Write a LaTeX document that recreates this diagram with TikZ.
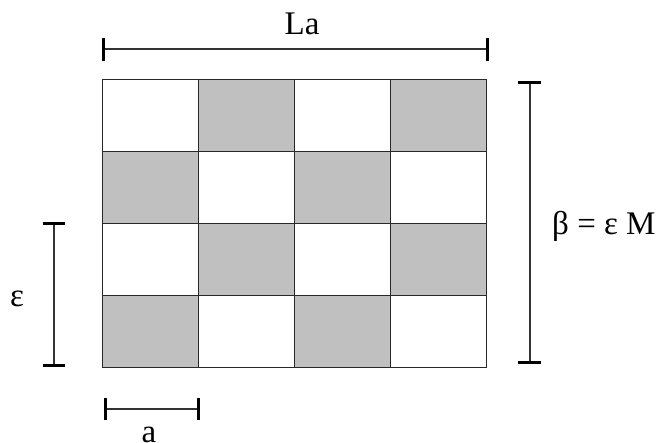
\documentclass[tikz,border=0pt]{standalone}
\usepackage{fontspec}
\setmainfont{Liberation Serif}
\definecolor{cellgray}{RGB}{192,192,192}
\definecolor{gridline}{RGB}{40,40,40}
\tikzset{
  cell/.style={draw=gridline, line width=1pt, minimum width=96pt, minimum height=72pt, inner sep=0pt, anchor=north west},
  dimline/.style={draw=black!80, line width=1.1pt},
  dimtick/.style={draw=black, line width=3pt},
  lbl/.style={inner sep=0pt, font=\fontsize{33}{36}\selectfont},
}
\begin{document}
\begin{tikzpicture}[x=1pt, y=-1pt]
\useasboundingbox (0,0) rectangle (657,443);
% grid of cells
\foreach \r in {0,...,3}{
  \foreach \c in {0,...,3}{
    \pgfmathparse{mod(\r+\c,2)==1 ? "cellgray" : "white"}
    \edef\cellfill{\pgfmathresult}
    \node[cell, fill=\cellfill] (c\r\c) at ({102+96*\c},{79+72*\r}) {};
  }
}
% top dimension La
\coordinate (t1) at (103,49);
\coordinate (t2) at (487,49);
\draw[dimline] (t1) -- (t2);
\draw[dimtick] ([yshift=-12pt]t1) -- ([yshift=11pt]t1);
\draw[dimtick] ([yshift=-12pt]t2) -- ([yshift=11pt]t2);
\node[lbl, anchor=base] (la) at (302,35) {La};
% right dimension
\coordinate (r1) at (530,83);
\coordinate (r2) at (530,363);
\draw[dimline] (r1) -- (r2);
\draw[dimtick] ([xshift=-12pt]r1) -- ([xshift=11pt]r1);
\draw[dimtick] ([xshift=-12pt]r2) -- ([xshift=11pt]r2);
\node[lbl, anchor=base west] (beta) at (552,235) {β = ε M};
% left dimension
\coordinate (l1) at (54,224);
\coordinate (l2) at (54,366);
\draw[dimline] (l1) -- (l2);
\draw[dimtick] ([xshift=-11pt]l1) -- ([xshift=11pt]l1);
\draw[dimtick] ([xshift=-11pt]l2) -- ([xshift=11pt]l2);
\node[lbl, anchor=base] (eps) at (17,307) {ε};
% bottom dimension a
\coordinate (b1) at (105,409);
\coordinate (b2) at (198,409);
\draw[dimline] (b1) -- (b2);
\draw[dimtick] ([yshift=-11pt]b1) -- ([yshift=11pt]b1);
\draw[dimtick] ([yshift=-11pt]b2) -- ([yshift=11pt]b2);
\node[lbl, anchor=base] (a) at (149,443) {a};
\end{tikzpicture}
\end{document}
